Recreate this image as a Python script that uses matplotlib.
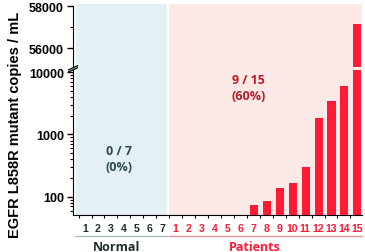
import matplotlib
matplotlib.use("Agg")
import matplotlib.pyplot as plt
import matplotlib.transforms as mtransforms
from matplotlib.patches import Rectangle
from matplotlib.lines import Line2D
import numpy as np

plt.rcParams['font.family'] = ['Liberation Sans', 'DejaVu Sans']

# data
normal_labels = ['1', '2', '3', '4', '5', '6', '7']
patient_labels = [str(i) for i in range(1, 16)]
normal_copies = [0, 0, 0, 0, 0, 0, 0]
patient_copies = [0, 0, 0, 0, 0, 0, 77, 90, 145, 175, 316, 1880, 3540, 6170, 57190]

bar_red = '#FF1A35'
normal_txt = '#1F2D2D'

labels = normal_labels + patient_labels
values = np.array(normal_copies + patient_copies, dtype=float)
x = np.arange(len(labels))
n_norm = len(normal_labels)

fig = plt.figure(figsize=(3.65, 2.53), dpi=100)
ax_top = fig.add_axes([0.2, 0.731, 0.792, 0.241])
ax_bot = fig.add_axes([0.2, 0.146, 0.792, 0.573])
for a in (ax_top, ax_bot):
    a.set_facecolor('none')
    a.set_xlim(-0.93, 21.4)
    a.spines['top'].set_visible(False)
    a.spines['right'].set_visible(False)

# background panels behind both axes
trans = mtransforms.blended_transform_factory(ax_bot.transData, fig.transFigure)
fig.patches.append(Rectangle((-0.7, 0.146), 7.05, 0.834, transform=trans,
                             facecolor='#E4F1F4', edgecolor='none', zorder=-5))
fig.patches.append(Rectangle((6.5, 0.146), 14.9, 0.834, transform=trans,
                             facecolor='#FDEAE6', edgecolor='none', zorder=-5))

pos = values > 0
for a in (ax_top, ax_bot):
    a.bar(x[pos], values[pos] - 10, bottom=10, width=0.7, color=bar_red,
          edgecolor='white', linewidth=0.6, zorder=3)

# upper (linear) part
ax_top.set_ylim(55100, 58000)
ax_top.set_yticks([56000, 58000])
ax_top.set_yticklabels(['56000', '58000'])
ax_top.set_yticks([57000], minor=True)
ax_top.spines['bottom'].set_visible(False)
ax_top.tick_params(axis='x', bottom=False, labelbottom=False)

# lower (log) part
ax_bot.set_yscale('log')
ax_bot.set_ylim(51, 10770)
ax_bot.set_yticks([100, 1000, 10000])
ax_bot.set_yticklabels(['100', '1000', '10000'])

for a in (ax_top, ax_bot):
    a.tick_params(axis='y', which='major', length=4, width=1, labelsize=9, pad=2.5)
    a.tick_params(axis='y', which='minor', length=2, width=0.8)
    for t in a.get_yticklabels():
        t.set_fontweight('bold')

ax_bot.set_xticks(x)
ax_bot.set_xticklabels(labels, fontsize=7.6, fontweight='bold')
ax_bot.set_xticks(np.arange(-0.5, 21.5, 1), minor=True)
ax_bot.tick_params(axis='x', which='major', length=0, pad=5.5)
ax_bot.tick_params(axis='x', which='minor', length=2, width=0.8)
for i, t in enumerate(ax_bot.get_xticklabels()):
    t.set_color(normal_txt if i < n_norm else bar_red)

# break marks on the y axis
fx = 0.2
for yb in (0.728, 0.720):
    fig.add_artist(Line2D([fx - 0.012, fx + 0.012], [yb - 0.008, yb + 0.008],
                          transform=fig.transFigure, color='black', lw=0.9))

# group lines and names
gtrans = mtransforms.blended_transform_factory(ax_bot.transData, fig.transFigure)
fig.add_artist(Line2D([-0.75, 6.3], [0.063, 0.063], transform=gtrans, color='#A9C0C6', lw=1))
fig.add_artist(Line2D([6.5, 21.4], [0.063, 0.063], transform=gtrans, color='#F0909C', lw=1))
fig.text(2.4, 0.023, 'Normal', transform=gtrans, ha='center', va='center',
         fontsize=9, fontweight='bold', color=normal_txt, family=['Open Sans', 'DejaVu Sans'])
fig.text(13.1, 0.023, 'Patients', transform=gtrans, ha='center', va='center',
         fontsize=9, fontweight='bold', color=bar_red, family=['Open Sans', 'DejaVu Sans'])

# annotations
ax_bot.text(2.6, 0.39, '0 / 7\n(0%)', transform=ax_bot.get_xaxis_transform(), ha='center',
            va='center', fontsize=9, fontweight='bold', color='#2E4A4F',
            linespacing=1.3, family=['Open Sans', 'DejaVu Sans'])
fig.text(12.6, 0.652, '9 / 15\n(60%)', transform=gtrans, ha='center', va='center',
         fontsize=9, fontweight='bold', color='#C0182A', linespacing=1.3,
         family=['Open Sans', 'DejaVu Sans'])

fig.text(0.04, 0.505, 'EGFR L858R mutant copies / mL', rotation=90, ha='center',
         va='center', fontsize=10.5, fontweight='bold')

fig.savefig('out.png', dpi=100)
